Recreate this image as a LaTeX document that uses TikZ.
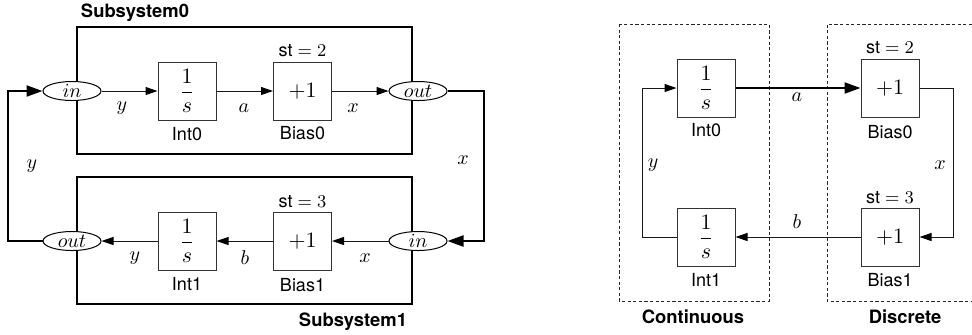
\documentclass[tikz,border=0pt]{standalone}
\usepackage{fontspec}
\setsansfont{TeX Gyre Heros}
\usetikzlibrary{arrows.meta,shapes.geometric}
\newcommand{\oneovers}{{\fontsize{11}{13}\selectfont$\displaystyle\frac{1}{s}$}}
\tikzset{
  blk/.style={draw=black!80, line width=0.5pt, minimum width=29pt, minimum height=29pt, inner sep=0pt, fill=white, font=\fontsize{10.5}{12}\selectfont},
  port/.style={ellipse, draw=black, line width=0.5pt, minimum width=29pt, minimum height=9.5pt, inner sep=0pt, fill=white, font=\fontsize{10}{12}\selectfont},
  frame/.style={draw=black, line width=1.1pt, inner sep=0pt},
  dframe/.style={draw=black!85, line width=0.5pt, dash pattern=on 1.6pt off 1.2pt},
  thin/.style={draw=black!90, line width=0.5pt},
  thickl/.style={draw=black, line width=1.1pt},
  tarr/.style={-{Triangle[length=6pt,width=4pt,color=black]}},
  Tarr/.style={-{Triangle[length=8pt,width=5.5pt]}},
  lbl/.style={font=\sffamily\fontsize{9}{11}\selectfont, inner sep=0pt},
  blbl/.style={font=\sffamily\bfseries\fontsize{9.2}{11}\selectfont, inner sep=0pt},
  sig/.style={font=\fontsize{10}{12}\selectfont, inner sep=0pt},
}
\begin{document}
\begin{tikzpicture}[x=0.5pt,y=-0.5pt]
\useasboundingbox (0,0) rectangle (972,334);
% ---------- Left diagram ----------
\node[frame, minimum width=167.5pt, minimum height=63.5pt] (sub0) at (244.5,90.5) {};
\node[frame, minimum width=167.5pt, minimum height=63.5pt] (sub1) at (244.5,240.5) {};
\node[blbl] (sub0l) at (135,13) {Subsystem0};
\node[blbl] (sub1l) at (353,322) {Subsystem1};

\node[port] (in0) at (72,91) {$in$};
\node[blk] (int0) at (187,91) {\oneovers};
\node[blk] (bias0) at (302.5,91) {$+1$};
\node[port] (out0) at (418,91) {$out$};
\node[lbl] (int0l) at (187,134) {Int0};
\node[lbl] (bias0l) at (302.5,133) {Bias0};
\node[lbl] (st2) at (302.5,51) {st $=2$};

\node[port] (in1) at (418,241) {$in$};
\node[blk] (bias1) at (302.5,241) {$+1$};
\node[blk] (int1) at (187,241) {\oneovers};
\node[port] (out1) at (72,241) {$out$};
\node[lbl] (int1l) at (187,284) {Int1};
\node[lbl] (bias1l) at (302.5,285) {Bias1};
\node[lbl] (st3) at (302.5,202) {st $=3$};

\draw[thin,tarr] (in0) -- (int0);
\draw[thin,tarr] (int0) -- (bias0);
\draw[thin,tarr] (bias0) -- (out0);
\draw[thin,tarr] (in1) -- (bias1);
\draw[thin,tarr] (bias1) -- (int1);
\draw[thin,tarr] (int1) -- (out1);

\coordinate (cr) at (484,91);
\coordinate (cl) at (8,241);
\draw[thickl,Tarr] (out0.east) -- (cr) |- (in1.east);
\draw[thickl,Tarr] (out1.west) -- (cl) |- (in0.west);

\node[sig] (ly0) at (122,108) {$y$};
\node[sig] (la0) at (244,108) {$a$};
\node[sig] (lx0) at (353,108) {$x$};
\node[sig] (ly1) at (135,258) {$y$};
\node[sig] (lb1) at (245,258) {$b$};
\node[sig] (lx1) at (365,258) {$x$};
\node[sig] (lxr) at (463,160) {$x$};
\node[sig] (lyl) at (32,166) {$y$};

% ---------- Right diagram ----------
\draw[dframe] (619,24) rectangle (769,301);
\draw[dframe] (972,24) -- (827,24) -- (827,301) -- (972,301);
\node[blbl] (contl) at (693,317) {Continuous};
\node[blbl] (discl) at (905,317) {Discrete};

\node[blk] (rint0) at (706,88) {\oneovers};
\node[blk] (rint1) at (706,237) {\oneovers};
\node[lbl] (rint0l) at (706,130) {Int0};
\node[lbl] (rint1l) at (706,280) {Int1};

\node[blk] (rbias0) at (890,88) {$+1$};
\node[blk] (rbias1) at (890,237) {$+1$};
\node[lbl] (rst2) at (890,48) {st $=2$};
\node[lbl] (rst3) at (890,198) {st $=3$};
\node[lbl] (rbias0l) at (890,132) {Bias0};
\node[lbl] (rbias1l) at (890,280) {Bias1};

\draw[thickl,Tarr] (rint0) -- (rbias0);
\coordinate (rr) at (953,88);
\draw[thin,tarr] (rbias0.east) -- (rr) |- (rbias1.east);
\draw[thin,tarr] (rbias1) -- (rint1);
\coordinate (rl) at (642,237);
\draw[thin,tarr] (rint1.west) -- (rl) |- (rint0.west);

\node[sig] (ra) at (797,97) {$a$};
\node[sig] (rb) at (797,222) {$b$};
\node[sig] (rx) at (940,165) {$x$};
\node[sig] (ry) at (653,165) {$y$};
\end{tikzpicture}
\end{document}
